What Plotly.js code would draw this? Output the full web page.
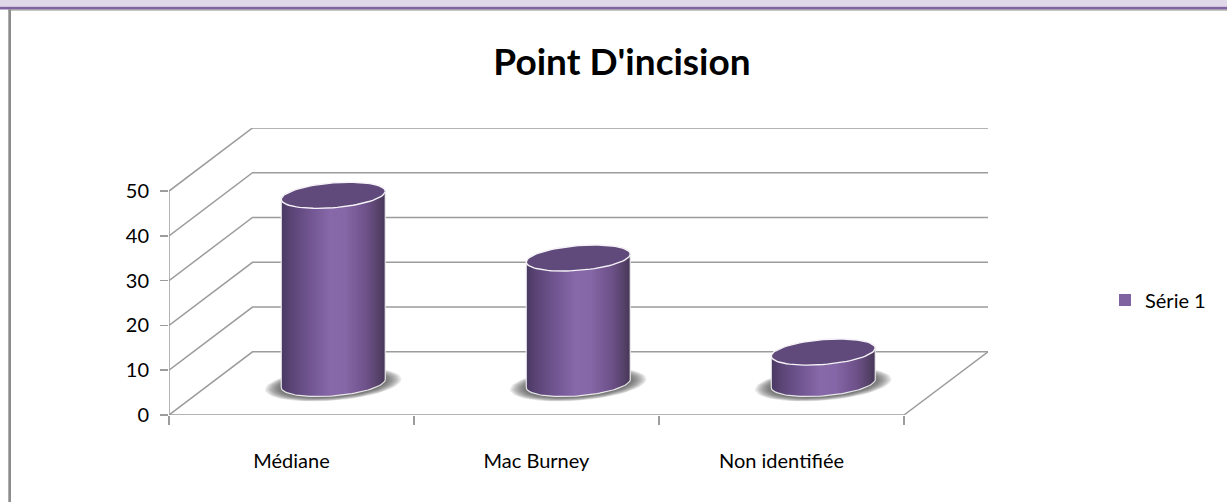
<!DOCTYPE html>
<html><head><meta charset="utf-8">
<script src="https://cdn.plot.ly/plotly-3.0.1.min.js"></script>
<style>html,body{margin:0;padding:0;background:#fff;overflow:hidden}#chart{width:1227px;height:502px}</style>
</head><body><div id="chart"></div>
<script>
const categories = ["Médiane", "Mac Burney", "Non identifiée"];
const seriesName = "Série 1";
const seriesValues = [42, 28, 7];
const yTicks = [0, 10, 20, 30, 40, 50];
const titleText = "Point D'incision";

const W = 1227, H = 502, L = 169, R = 988, T = 128.3, B = 414.7;
const unitX = 245, unitY = 4.47;               // pixels per axis unit
const depthX = 83.5 / unitX, depthY = 63 / unitY; // oblique depth of the floor
const xMax = (R - L) / unitX, yMax = (B - T) / unitY;
const GRID = "#9c9c9c", FONT = "Lato, Carlito, Calibri, sans-serif";
const px = x => (x - L) / (R - L), py = y => (B - y) / (B - T);

const rx = 52 / unitX, ry = 12.4 / unitY, skew = 4 / unitY;
function ellipse(cx, cy, sa, n) {
  const xs = [], ys = [];
  for (let i = 0; i <= n; i++) {
    const t = 2 * Math.PI * i / n;
    xs.push(cx + sa * rx * Math.cos(t));
    ys.push(cy + sa * (skew * Math.cos(t) + ry * Math.sin(t)));
  }
  return [xs, ys];
}
function line(xs, ys, w) {
  return {x: xs, y: ys, mode: "lines", type: "scatter", cliponaxis: false, showlegend: false,
    hoverinfo: "skip", line: {color: GRID, width: w || 1.5}};
}
const traces = [];
// walls and floor
yTicks.forEach(v => traces.push(line([0, depthX, xMax], [v, v + depthY, v + depthY])));
traces.push(line([0, 0], [0, 50]));
traces.push(line([0, categories.length, xMax], [0, 0, depthY]));

// the series itself, for the legend; hidden behind the cylinders
const centers = categories.map((c, i) => i + 0.5 + depthX / 2);
traces.push({x: centers, y: seriesValues.map(v => v + depthY / 2), mode: "markers", type: "scatter",
  name: seriesName, showlegend: true, hoverinfo: "skip", marker: {symbol: "square", size: 12, color: "#8064a2"}});

const sideScale = [[0, "#4a3863"], [0.1, "#5b4576"], [0.3, "#735794"], [0.47, "#8768a9"], [0.62, "#8566a6"],
                   [0.82, "#6d5189"], [0.94, "#554168"], [1, "#463657"]];
seriesValues.forEach((v, i) => {
  const cx = centers[i], cy = depthY / 2;
  // soft floor shadow
  for (let k = 0; k < 9; k++) {
    const s = 1.31 - k * 0.035;
    const e = ellipse(cx, cy, s, 60);
    e[1] = e[1].map(y => y - 0.2);
    traces.push({x: e[0], y: e[1], mode: "lines", type: "scatter", fill: "toself", cliponaxis: false,
      showlegend: false, hoverinfo: "skip", line: {width: 0}, fillcolor: "rgba(70,70,70,0.13)"});
  }
  // body: lower half of the base ellipse, closed over the top ellipse
  const n = 60, bx = [], by = [];
  for (let j = 0; j <= n; j++) {
    const t = Math.PI + 2 * Math.PI * j / n / 2;
    bx.push(cx + rx * Math.cos(t)); by.push(cy + skew * Math.cos(t) + ry * Math.sin(t));
  }
  for (let j = 0; j <= n; j++) {
    const t = 2 * Math.PI * j / n / 2;
    bx.push(cx + rx * Math.cos(t)); by.push(cy + v + skew * Math.cos(t) + ry * Math.sin(t));
  }
  bx.push(bx[0]); by.push(by[0]);
  traces.push({x: bx, y: by, mode: "lines", type: "scatter", fill: "toself", cliponaxis: false,
    showlegend: false, hoverinfo: "skip", line: {color: "rgba(238,238,238,0.95)", width: 1.2},
    fillgradient: {type: "horizontal", start: cx - rx, stop: cx + rx, colorscale: sideScale}});
  const top = ellipse(cx, cy + v, 1, 80);
  traces.push({x: top[0], y: top[1], mode: "lines", type: "scatter", fill: "toself", cliponaxis: false,
    showlegend: false, hoverinfo: "skip", line: {color: "#f6f3f8", width: 1.4}, fillcolor: "#604a7b"});
});

const band = (x0, x1, y0, y1, c) => ({type: "rect", xref: "paper", yref: "paper", layer: "above",
  x0: px(x0), x1: px(x1), y0: py(y0), y1: py(y1), fillcolor: c, line: {width: 0}});

const layout = {
  width: W, height: H, paper_bgcolor: "#fff", plot_bgcolor: "#fff",
  margin: {l: L, r: W - R, t: T, b: H - B, pad: 0},
  title: {text: "<b>" + titleText + "</b>", font: {family: FONT, size: 37, color: "#000"},
    xref: "paper", yref: "container", x: px(622), xanchor: "center", y: 1 - 62 / H, yanchor: "middle"},
  xaxis: {type: "linear", range: [0, xMax], showgrid: false, zeroline: false, showline: false, fixedrange: true,
    tickmode: "array", tickvals: categories.map((c, i) => i + 0.5), ticktext: categories,
    ticks: "outside", ticklen: 0, ticklabelstandoff: 28,
    tickfont: {family: FONT, size: 20, color: "#000"},
    minor: {tickmode: "array", tickvals: [0, 1, 2, 3], ticks: "outside", ticklen: 9, tickwidth: 1.5, tickcolor: GRID, showgrid: false}},
  yaxis: {range: [0, yMax], showgrid: false, zeroline: false, showline: false, fixedrange: true,
    tickmode: "array", tickvals: yTicks, ticks: "outside", ticklen: 8, tickwidth: 1.5, tickcolor: GRID,
    ticklabelstandoff: 7, tickfont: {family: FONT, size: 20, color: "#000"}},
  legend: {x: px(1105), xanchor: "left", y: py(300), yanchor: "middle", bgcolor: "rgba(0,0,0,0)", itemwidth: 30,
    font: {family: FONT, size: 20, color: "#000"}, itemclick: false, itemdoubleclick: false},
  showlegend: true,
  shapes: [band(0, W, 0, 7.3, "#e0d8e8"), band(0, W, 7.3, 10, "#8064a2"),
    band(8.3, W, 10, 11, "#8c8c8c"), band(8.3, 11, 10, H, "#8c8c8c")]
};
Plotly.newPlot("chart", traces, layout, {displayModeBar: false, staticPlot: true});
</script></body></html>
